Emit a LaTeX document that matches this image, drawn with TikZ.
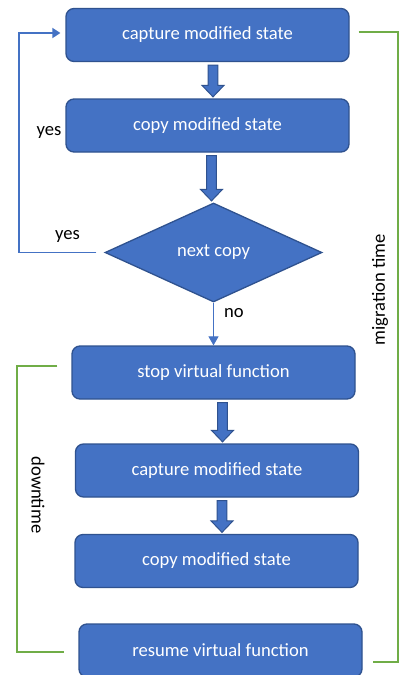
\documentclass[tikz,border=0pt]{standalone}
\usepackage{fontspec}
\setmainfont{Carlito}
\usetikzlibrary{calc,shapes.geometric,arrows.meta}
\definecolor{boxblue}{HTML}{4472C4}
\definecolor{boxedge}{HTML}{2F528F}
\definecolor{brgreen}{HTML}{70AD47}
\tikzset{
  stepbox/.style={draw=boxedge, line width=1.3pt, fill=boxblue, rounded corners=8pt,
    minimum width=283pt, minimum height=53pt, inner sep=0pt, text=white,
    font=\fontsize{18.6}{21}\selectfont},
  decbox/.style={draw=boxedge, line width=1.3pt, fill=boxblue, diamond, aspect=2.2,
    minimum width=217pt, minimum height=99pt, inner sep=0pt, text=white,
    font=\fontsize{18.6}{21}\selectfont},
  barrow/.style={draw=boxedge, line width=1pt, fill=boxblue},
  thinline/.style={draw=boxblue, line width=1.8pt},
  bracket/.style={draw=brgreen, line width=1.5pt},
  lbl/.style={text=black, font=\fontsize{18.6}{21}\selectfont, inner sep=0pt},
}
\newcommand{\blockarr}[3]{% from, to, dx
  \draw[barrow] ($(#1.south)+(#3-4.8,3)$) -- ($(#1.south |- #2.north)+(#3-4.8,-13)$) -- ($(#1.south |- #2.north)+(#3-11,-13)$)
    -- ($(#1.south |- #2.north)+(#3,-1.5)$) -- ($(#1.south |- #2.north)+(#3+11,-13)$) -- ($(#1.south |- #2.north)+(#3+4.8,-13)$)
    -- ($(#1.south)+(#3+4.8,3)$) -- cycle;}
\begin{document}
\begin{tikzpicture}[x=1pt,y=-1pt]
\useasboundingbox (0,0) rectangle (399,675);
\fill[white] (0,0) rectangle (399,675);

\node[stepbox] (b1) at (207.5,35) {capture modified state};
\node[stepbox] (b2) at (207.5,125.5) {copy modified state};
\node[decbox] (dia) at (213.5,252.5) {next copy};
\node[stepbox] (b3) at (213.5,372.5) {stop virtual function};
\node[stepbox] (b4) at (217,470.5) {capture modified state};
\node[stepbox] (b5) at (216.5,561) {copy modified state};
\node[stepbox] (b6) at (220.5,650.5) {resume virtual function};

\blockarr{b1}{b2}{5.5}
\blockarr{b2}{dia}{4}
\blockarr{b3}{b4}{9}
\blockarr{b4}{b5}{5}

% no arrow
\draw[draw=boxblue, line width=1pt, -{Triangle[length=9pt,width=10pt]}] (dia.south) -- (dia.south |- b3.north);
\node[lbl] (no) at (234,313) {no};

% yes loop
\draw[thinline, -{Triangle[length=8pt,width=10pt]}] ($(dia.west)+(-8,0)$) -- ++(-77,0) |- ($(b1.west)+(-5,-2)$);
\node[lbl] (yes1) at (67.5,236) {yes};
\node[lbl] (yes2) at (49,132) {yes};

% migration time bracket
\draw[bracket] ($(b1.east)+(9,-3)$) -- (398,32) -- (398,662) -- ($(b6.east)+(10,11.5)$);
\node[lbl, rotate=90] (mt) at (380,290) {migration time};

% downtime bracket
\draw[bracket] ($(b3.west)+(-14,-6.5)$) -- (17,366) -- (17,652) -- ($(b6.west)+(-14,1.5)$);
\node[lbl, rotate=-90] (dt) at (38,495) {downtime};
\end{tikzpicture}
\end{document}
